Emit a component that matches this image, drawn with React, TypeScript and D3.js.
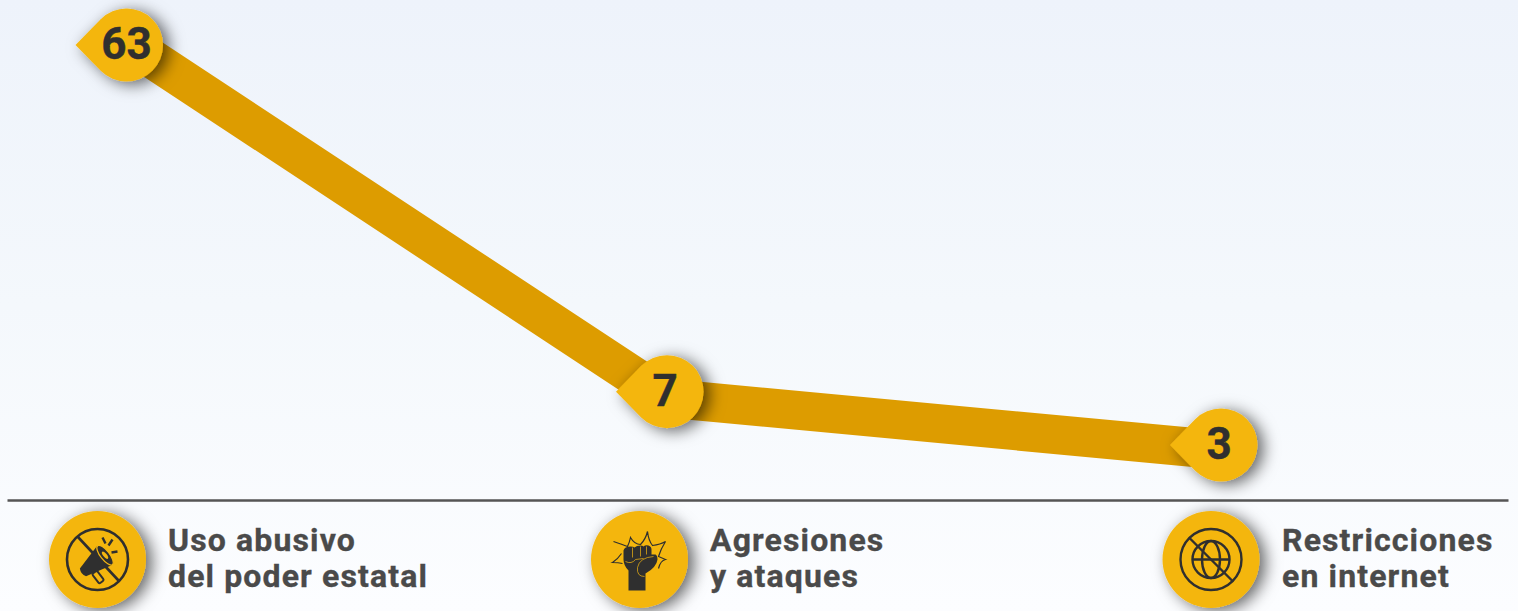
import React from "react";
import * as d3 from "d3";

const categories = ["Uso abusivo|del poder estatal", "Agresiones|y ataques", "Restricciones|en internet"];
const values = [63, 7, 3];
const valueLabels = ["63", "7", "3"];

const W = 1518, H = 611;
const DARK = "#2f2f2f", GOLD = "#f4b611", BAND = "#dd9c00";

const x = d3.scaleOrdinal<number, number>().domain([0, 1, 2]).range([126.5, 667, 1221]);
const y = d3.scalePow().exponent(0.6).domain([3, 63]).range([450, 42]);
const iconX = d3.scaleOrdinal<number, number>().domain([0, 1, 2]).range([97.5, 639.5, 1211]);
const textX = d3.scaleOrdinal<number, number>().domain([0, 1, 2]).range([168, 710, 1282]);
const markerShift = [3, -6.5, -5];
const labelShift = [0, -2, -2];

const line = d3.line<number>().x((_, i) => x(i)).y((d) => y(d));

function Megaphone() {
  return (
    <g fill="none" stroke={DARK} strokeWidth={2.6}>
      <circle r={30.5} />
      <line x1={-20} y1={-23} x2={21} y2={21} />
      <g transform="translate(2,0) rotate(-38)">
        <path d="M-21,-5 L6,-12 L6,12 L-21,5 Q-24,0 -21,-5Z" fill={DARK} stroke="none" />
        <ellipse cx={7} cy={0} rx={4.5} ry={12} fill={DARK} stroke={GOLD} strokeWidth={1.2} />
        <ellipse cx={7} cy={0} rx={1.8} ry={4.5} fill={GOLD} stroke="none" />
        <rect x={-15} y={7} width={6} height={12} rx={1.5} fill={GOLD} stroke={DARK} strokeWidth={2} />
      </g>
      <g strokeWidth={2.4}>
        <line x1={5} y1={-22} x2={8} y2={-16} />
        <line x1={15} y1={-20} x2={11} y2={-14} />
        <line x1={20} y1={-8} x2={14} y2={-7} />
      </g>
    </g>
  );
}

function Fist() {
  return (
    <g>
      <path
        d="M-26,-18 Q-17,-15 -12,-13 Q-10,-17 -9,-22 Q-5,-15 1,-15 Q6,-20 8,-28 Q9,-19 13,-14 Q21,-15 26,-18 Q21,-10 19,-3 L26,0 Q21,1 19,9 M-18,-6 Q-22,0 -27,3 Q-21,3 -17,4"
        fill="none" stroke={DARK} strokeWidth={1.2} strokeLinejoin="miter"
      />
      <path
        d="M-11,31 L-11,11 Q-16,6 -16,0 L-16,-9 Q-15,-13 -9,-13 Q-6,-13 -5,-12 Q-3,-14 1,-14 Q3,-14 4,-13 Q6,-15 9,-14 Q12,-13 12,-10 L12,-5 L16,-5 Q18,-4 18,0 Q17,8 6,14 L6,31Z"
        fill={DARK}
      />
      <path
        d="M-7,-12 L-7,-2 M1,-13 L1,-3 M7,-13 L7,-5 M-14,2 Q-8,5 -4,0 L4,-1 M14,-3 Q0,-2 -2,8 Q-3,17 5,17"
        fill="none" stroke={GOLD} strokeWidth={0.7}
      />
    </g>
  );
}

function Globe() {
  return (
    <g fill="none" stroke={DARK} strokeWidth={2.4}>
      <circle r={30.5} />
      <circle r={18.5} />
      <ellipse rx={9} ry={18.5} />
      <line x1={-18.5} y1={0} x2={18.5} y2={0} />
      <line x1={-22} y1={-22} x2={22} y2={22} />
    </g>
  );
}

const icons = [Megaphone, Fist, Globe];

export default function App() {
  const r = 36.5;
  return (
    <svg width={W} height={H} viewBox={`0 0 ${W} ${H}`} style={{ position: "absolute", left: 0, top: 0, display: "block" }}>
      <defs>
        <linearGradient id="bg" x1="0" y1="0" x2="0" y2="1">
          <stop offset="0" stopColor="#eef3fb" />
          <stop offset="0.5" stopColor="#f4f8fc" />
          <stop offset="1" stopColor="#fcfdff" />
        </linearGradient>
        <filter id="sh" x="-60%" y="-60%" width="220%" height="220%">
          <feDropShadow dx={6} dy={3} stdDeviation={8} floodColor="#000" floodOpacity={0.6} />
        </filter>
      </defs>
      <rect width={W} height={H} fill="url(#bg)" />
      <path d={line(values) ?? ""} fill="none" stroke={BAND} strokeWidth={39} strokeLinejoin="round" />
      {values.map((v, i) => {
        const cx = x(i), cy = y(v) + markerShift[i];
        const tip = r + 14.5;
        const a = Math.PI * 0.75;
        return (
          <g key={i}>
            <path
              d={`M${cx - tip},${cy} L${cx + r * Math.cos(a)},${cy - r * Math.sin(a)} A${r},${r} 0 1 1 ${cx + r * Math.cos(a)},${cy + r * Math.sin(a)} Z`}
              fill={GOLD}
              filter="url(#sh)"
            />
            <text x={cx + labelShift[i]} y={cy + 14} textAnchor="middle" fontFamily="Roboto, sans-serif" fontWeight={700} fontSize={44} fill={DARK} stroke={DARK} strokeWidth={0.4}>
              {valueLabels[i]}
            </text>
          </g>
        );
      })}
      <line x1={7.5} x2={1508.5} y1={500.5} y2={500.5} stroke="#555" strokeWidth={2.5} />
      {categories.map((c, i) => {
        const Icon = icons[i];
        const [l1, l2] = c.split("|");
        return (
          <g key={c}>
            <circle cx={iconX(i)} cy={559.5} r={48.5} fill={GOLD} filter="url(#sh)" />
            <g transform={`translate(${iconX(i)},559.5)`}>
              <Icon />
            </g>
            <text fontFamily="Roboto, sans-serif" fontWeight={700} fontSize={32} letterSpacing={1.13} fill="#4a4a4a" stroke="#4a4a4a" strokeWidth={0.35}>
              <tspan x={textX(i)} y={551}>{l1}</tspan>
              <tspan x={textX(i)} y={587}>{l2}</tspan>
            </text>
          </g>
        );
      })}
    </svg>
  );
}
